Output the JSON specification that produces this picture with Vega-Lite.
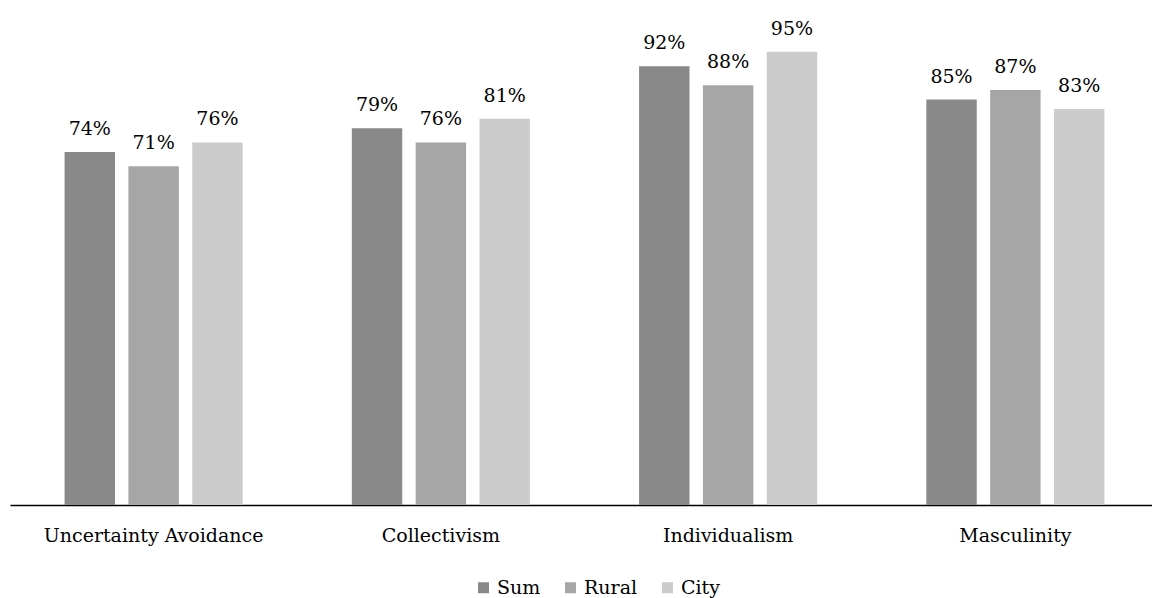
{
  "$schema": "https://vega.github.io/schema/vega-lite/v6.json",
  "width": 1142,
  "height": 477,
  "autosize": {"type": "none"},
  "padding": {"left": 10, "top": 28, "right": 0, "bottom": 93},
  "background": "white",
  "config": {
    "view": {"stroke": null},
    "font": "DejaVu Serif"
  },
  "data": {
    "values": [
      {"category": "Uncertainty Avoidance", "series": "Sum", "value": 0.74},
      {"category": "Uncertainty Avoidance", "series": "Rural", "value": 0.71},
      {"category": "Uncertainty Avoidance", "series": "City", "value": 0.76},
      {"category": "Collectivism", "series": "Sum", "value": 0.79},
      {"category": "Collectivism", "series": "Rural", "value": 0.76},
      {"category": "Collectivism", "series": "City", "value": 0.81},
      {"category": "Individualism", "series": "Sum", "value": 0.92},
      {"category": "Individualism", "series": "Rural", "value": 0.88},
      {"category": "Individualism", "series": "City", "value": 0.95},
      {"category": "Masculinity", "series": "Sum", "value": 0.85},
      {"category": "Masculinity", "series": "Rural", "value": 0.87},
      {"category": "Masculinity", "series": "City", "value": 0.83}
    ]
  },
  "encoding": {
    "x": {
      "field": "category",
      "type": "nominal",
      "sort": ["Uncertainty Avoidance", "Collectivism", "Individualism", "Masculinity"],
      "scale": {"paddingInner": 0.38, "paddingOuter": 0.19, "range": [0, 1149]},
      "axis": {
        "title": null,
        "labelAngle": 0,
        "labelFont": "DejaVu Serif",
        "labelFontSize": 19,
        "labelLimit": 400,
        "labelColor": "#000000",
        "labelPadding": 21,
        "ticks": false,
        "domainColor": "#000000",
        "domainWidth": 1.5,
        "grid": false
      }
    },
    "xOffset": {
      "field": "series",
      "type": "nominal",
      "sort": ["Sum", "Rural", "City"],
      "scale": {"paddingInner": 0.21, "paddingOuter": 0}
    },
    "y": {
      "field": "value",
      "type": "quantitative",
      "scale": {"domain": [0, 1]},
      "axis": null
    }
  },
  "layer": [
    {
      "mark": {"type": "bar"},
      "encoding": {
        "color": {
          "field": "series",
          "type": "nominal",
          "sort": ["Sum", "Rural", "City"],
          "scale": {"domain": ["Sum", "Rural", "City"], "range": ["#898989", "#a6a6a6", "#cccccc"]},
          "legend": {
            "title": null,
            "orient": "none",
            "legendX": 464,
            "legendY": 550,
            "direction": "horizontal",
            "symbolType": "square",
            "symbolSize": 121,
            "symbolStrokeWidth": 0,
            "labelFont": "DejaVu Serif",
            "labelFontSize": 19,
            "labelColor": "#000000",
            "labelOffset": 4,
            "columnPadding": 20
          }
        }
      }
    },
    {
      "mark": {"type": "text", "baseline": "alphabetic", "dy": -17, "fontSize": 19, "font": "DejaVu Serif", "color": "#000000"},
      "encoding": {
        "text": {"field": "value", "type": "quantitative", "format": ".0%"}
      }
    }
  ]
}
